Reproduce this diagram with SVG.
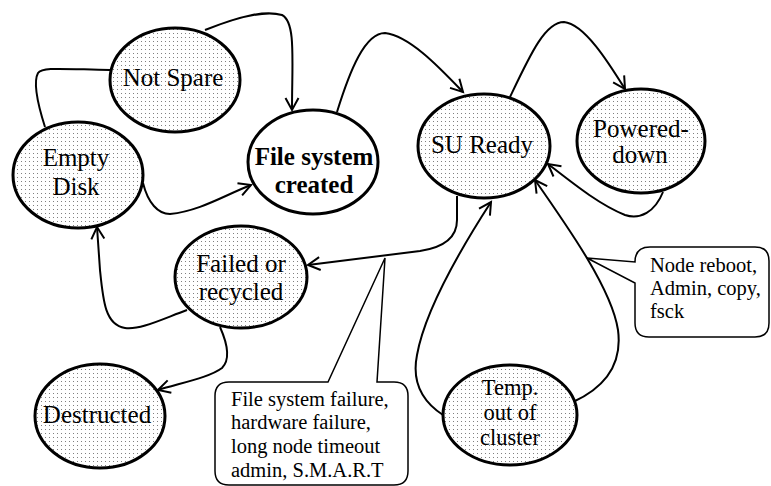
<svg xmlns="http://www.w3.org/2000/svg" width="771" height="486" viewBox="0 0 771 486">
<defs>
<pattern id="dots" width="4" height="4" patternUnits="userSpaceOnUse">
<rect width="4" height="4" fill="#ffffff"/>
<rect x="1" y="1" width="1" height="1" fill="#808080"/>
</pattern>
<marker id="arr" markerUnits="userSpaceOnUse" markerWidth="16" markerHeight="16" viewBox="0 0 16 16" refX="13" refY="8" orient="auto">
<path d="M1,1.5 L13,8 L1,14.5" fill="none" stroke="#000" stroke-width="2"/>
</marker>
</defs>
<style>
.node ellipse{stroke:#000;stroke-width:3}
.dot{fill:url(#dots)}
.plain{fill:#fff}
.lbl{font-family:'Liberation Serif','Times New Roman',serif;font-size:25px;fill:#000;text-anchor:middle}
.lbl.small{font-size:22.5px}
.bold{font-weight:bold}
.conn path{fill:none;stroke:#000;stroke-width:2}
.arrow{marker-end:url(#arr)}
.callout path{fill:#fff;stroke:#000;stroke-width:1.5}
.ctext{font-family:'Liberation Serif','Times New Roman',serif;font-size:20.5px;fill:#000}
</style>
<rect width="771" height="486" fill="#fff"/>
<g id="connectors" class="conn">
<path d="M45,127 C 38,105 33,82 38,73 C 42,67 60,69 110,70"/>
<path class="arrow" d="M205,30 C 240,16 265,10 282,15 C 296,22 292,60 292,110"/>
<path class="arrow" d="M143,183 C 148,203 158,214 170,214 C 200,211 225,195 251,185"/>
<path class="arrow" d="M337,112 C 350,70 365,33 385,33 C 410,36 440,68 463,92"/>
<path class="arrow" d="M510,97 C 530,55 545,22 564,22 C 585,24 610,65 625,89"/>
<path class="arrow" d="M663,192 C 655,212 640,220 625,215 C 600,205 575,185 548,164"/>
<path class="arrow" d="M457,196 L457,220 C 457,240 440,248 420,251 L308,265"/>
<path class="arrow" d="M187,310 C 160,320 140,330 125,328 C 105,325 103,300 100,270 L97,227"/>
<path class="arrow" d="M220,327 C 228,345 230,360 222,368 C 210,377 185,382 158,390"/>
<path class="arrow" d="M443,415 C 420,400 412,380 417,355 C 425,310 460,250 491,202"/>
<path class="arrow" d="M573,402 C 610,385 622,360 618,330 C 612,290 570,230 535,180"/>
</g>
<g id="notspare" class="node"><ellipse class="dot" cx="175" cy="80" rx="65" ry="52"/><text class="lbl" x="173" y="86">Not Spare</text></g>
<g id="emptydisk" class="node"><ellipse class="dot" cx="78" cy="175" rx="65" ry="53"/><text class="lbl" x="76" y="166">Empty</text><text class="lbl" x="76" y="195">Disk</text></g>
<g id="fscreated" class="node"><ellipse class="plain" cx="313" cy="162" rx="65" ry="52"/><text class="lbl bold" x="314" y="165">File system</text><text class="lbl bold" x="314" y="193">created</text></g>
<g id="suready" class="node"><ellipse class="dot" cx="484" cy="146" rx="66" ry="52"/><text class="lbl" x="482" y="153">SU Ready</text></g>
<g id="powereddown" class="node"><ellipse class="dot" cx="641" cy="141" rx="64" ry="52"/><text class="lbl" x="641" y="137">Powered-</text><text class="lbl" x="640" y="163">down</text></g>
<g id="failed" class="node"><ellipse class="dot" cx="241" cy="277" rx="66" ry="51"/><text class="lbl" x="241" y="272">Failed or</text><text class="lbl" x="241" y="300">recycled</text></g>
<g id="destructed" class="node"><ellipse class="dot" cx="100" cy="416" rx="65" ry="52"/><text class="lbl" x="97" y="423">Destructed</text></g>
<g id="temp" class="node"><ellipse class="dot" cx="510" cy="415" rx="67" ry="50"/><text class="lbl small" x="510" y="395">Temp.</text><text class="lbl small" x="510" y="420">out of</text><text class="lbl small" x="510" y="445">cluster</text></g>
<g id="callout-failure" class="callout">
<path d="M229,382 L328,382 L385,258 L377,382 L394,382 Q408,382 408,396 L408,471 Q408,485 394,485 L229,485 Q215,485 215,471 L215,396 Q215,382 229,382 Z"/>
<text class="ctext" x="231" y="406">File system failure,</text>
<text class="ctext" x="231" y="429">hardware failure,</text>
<text class="ctext" x="231" y="453">long node timeout</text>
<text class="ctext" x="231" y="477">admin, S.M.A.R.T</text>
</g>
<g id="callout-reboot" class="callout">
<path d="M650,247 L755,247 Q769,247 769,261 L769,323 Q769,337 755,337 L649,337 Q635,337 635,323 L635,283 L587,258 L635,262 Q635,247 650,247 Z"/>
<text class="ctext" x="650" y="272">Node reboot,</text>
<text class="ctext" x="650" y="295">Admin, copy,</text>
<text class="ctext" x="650" y="318">fsck</text>
</g>
</svg>
